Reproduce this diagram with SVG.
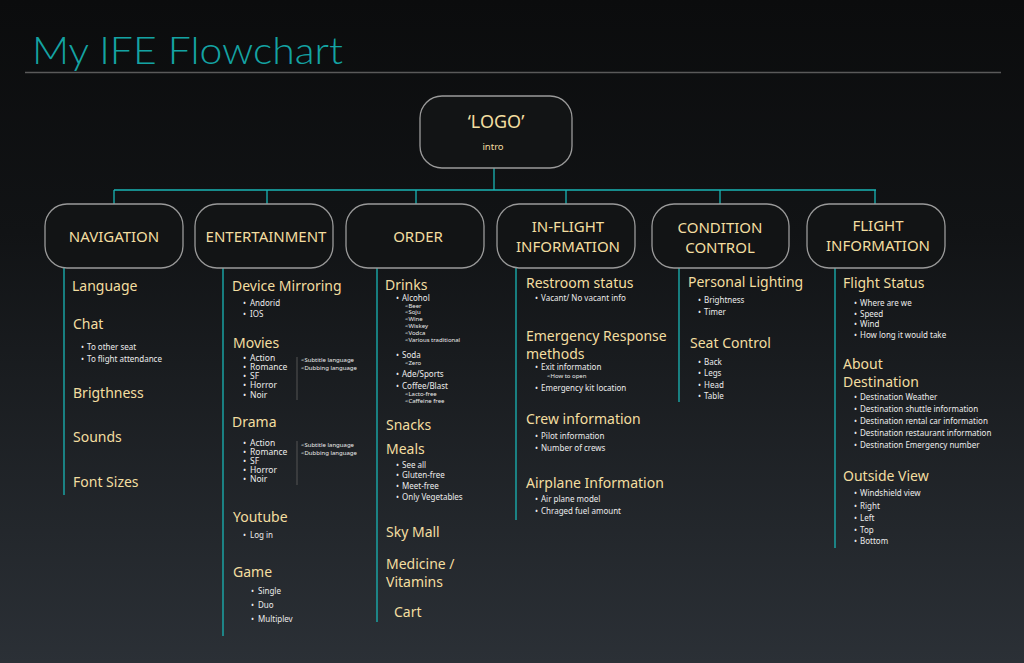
<svg xmlns="http://www.w3.org/2000/svg" width="1024" height="663" viewBox="0 0 1024 663">
<defs>
<linearGradient id="bg" x1="0" y1="0" x2="0" y2="1">
<stop offset="0" stop-color="#0b0c0d"/>
<stop offset="0.35" stop-color="#111315"/>
<stop offset="1" stop-color="#2b3036"/>
</linearGradient>
<style>
.box{fill:#121415;stroke:#9a9a9a;stroke-width:1.3}
.lbl{font-family:"Noto Sans","Open Sans",sans-serif;font-size:15px;fill:#f3dea0;text-anchor:middle}
.h{font-family:"Noto Sans","Open Sans",sans-serif;font-size:14px;fill:#f3dea0}
.b{font-family:"Noto Sans","Open Sans",sans-serif;font-size:8px;fill:#ececec}
.b2{font-family:"Noto Sans","Open Sans",sans-serif;font-size:8.5px;fill:#ececec}
.s{font-family:"Noto Sans","Open Sans",sans-serif;font-size:6px;fill:#ececec}
.c{stroke:#19b4b4;stroke-width:1.3;fill:none}
.g{stroke:#555;stroke-width:1;fill:none}
</style>
</defs>
<rect width="1024" height="663" fill="url(#bg)"/>
<text x="32" y="64" font-family="Lato,'Noto Sans',sans-serif" font-weight="300" font-size="38" fill="#14a3a3" textLength="311" lengthAdjust="spacingAndGlyphs">My IFE Flowchart</text>
<line x1="25" y1="72.5" x2="1001" y2="72.5" stroke="#5a5a5a" stroke-width="1.5"/>

<g id="connectors">
<path class="c" d="M494 168V190M114 190H876M114 190V204M267 190V204M416 190V204M566 190V204M720 190V204M875 190V204"/>
<path class="c" d="M64 268V495M223 268V636M377 268V622M516 268V520M679 268V402M835 268V548"/>
<path class="g" d="M297 357V400M297 441V485"/>
</g>

<g id="logo">
<rect class="box" x="420" y="96" width="152" height="72" rx="22"/>
<text class="lbl" x="496" y="128" style="font-size:18px">‘LOGO’</text>
<text class="lbl" x="493" y="150" style="font-size:9.5px">intro</text>
</g>

<g id="navigation">
<rect class="box" x="45" y="204" width="138" height="64" rx="22"/>
<text class="lbl" x="114" y="242">NAVIGATION</text>
</g>
<g id="entertainment">
<rect class="box" x="195" y="204" width="138" height="64" rx="22"/>
<text class="lbl" x="266" y="242">ENTERTAINMENT</text>
</g>
<g id="order">
<rect class="box" x="346" y="204" width="138" height="64" rx="22"/>
<text class="lbl" x="418" y="242">ORDER</text>
</g>
<g id="inflight">
<rect class="box" x="497" y="204" width="138" height="64" rx="22"/>
<text class="lbl" x="568" y="232">IN-FLIGHT</text>
<text class="lbl" x="568" y="252">INFORMATION</text>
</g>
<g id="condition">
<rect class="box" x="652" y="204" width="137" height="64" rx="22"/>
<text class="lbl" x="720" y="233">CONDITION</text>
<text class="lbl" x="720" y="253">CONTROL</text>
</g>
<g id="flightinfo">
<rect class="box" x="807" y="204" width="138" height="64" rx="22"/>
<text class="lbl" x="878" y="231">FLIGHT</text>
<text class="lbl" x="878" y="251">INFORMATION</text>
</g>

<g id="nav-items">
<text class="h" x="72" y="291">Language</text>
<text class="h" x="73" y="329">Chat</text>
<text class="b" x="81" y="350">•<tspan x="87">To other seat</tspan></text>
<text class="b" x="81" y="362">•<tspan x="87">To flight attendance</tspan></text>
<text class="h" x="73" y="398">Brigthness</text>
<text class="h" x="73" y="442">Sounds</text>
<text class="h" x="73" y="487">Font Sizes</text>
</g>

<g id="ent-items">
<text class="h" x="232" y="291">Device Mirroring</text>
<text class="b" x="243" y="306">•<tspan x="250">Andorid</tspan></text>
<text class="b" x="243" y="317">•<tspan x="250">IOS</tspan></text>
<text class="h" x="233" y="348">Movies</text>
<text class="b2" x="243" y="361">•<tspan x="250">Action</tspan></text>
<text class="b2" x="243" y="370">•<tspan x="250">Romance</tspan></text>
<text class="b2" x="243" y="379">•<tspan x="250">SF</tspan></text>
<text class="b2" x="243" y="388">•<tspan x="250">Horror</tspan></text>
<text class="b2" x="243" y="398">•<tspan x="250">Noir</tspan></text>
<text class="s" x="301" y="362">&lt;Subtitle language</text>
<text class="s" x="301" y="370">&lt;Dubbing language</text>
<text class="h" x="232" y="427">Drama</text>
<text class="b2" x="243" y="446">•<tspan x="250">Action</tspan></text>
<text class="b2" x="243" y="455">•<tspan x="250">Romance</tspan></text>
<text class="b2" x="243" y="464">•<tspan x="250">SF</tspan></text>
<text class="b2" x="243" y="473">•<tspan x="250">Horror</tspan></text>
<text class="b2" x="243" y="482">•<tspan x="250">Noir</tspan></text>
<text class="s" x="301" y="447">&lt;Subtitle language</text>
<text class="s" x="301" y="455">&lt;Dubbing language</text>
<text class="h" x="233" y="522">Youtube</text>
<text class="b" x="243" y="538">•<tspan x="250">Log in</tspan></text>
<text class="h" x="233" y="577">Game</text>
<text class="b" x="251" y="594">•<tspan x="258">Single</tspan></text>
<text class="b" x="251" y="608">•<tspan x="258">Duo</tspan></text>
<text class="b" x="251" y="622">•<tspan x="258">Multiplev</tspan></text>
</g>

<g id="order-items">
<text class="h" x="385" y="290">Drinks</text>
<text class="b" x="396" y="301">•<tspan x="402">Alcohol</tspan></text>
<text class="s" x="405" y="308">&lt;Beer</text>
<text class="s" x="405" y="314">&lt;Soju</text>
<text class="s" x="405" y="321">&lt;Wine</text>
<text class="s" x="405" y="328">&lt;Wiskey</text>
<text class="s" x="405" y="335">&lt;Vodca</text>
<text class="s" x="405" y="342">&lt;Various traditional</text>
<text class="b" x="396" y="358">•<tspan x="402">Soda</tspan></text>
<text class="s" x="405" y="365">&lt;Zero</text>
<text class="b" x="396" y="377">•<tspan x="402">Ade/Sports</tspan></text>
<text class="b" x="396" y="389">•<tspan x="402">Coffee/Blast</tspan></text>
<text class="s" x="405" y="396">&lt;Lacto-free</text>
<text class="s" x="405" y="403">&lt;Caffeine free</text>
<text class="h" x="386" y="430">Snacks</text>
<text class="h" x="386" y="454">Meals</text>
<text class="b" x="396" y="468">•<tspan x="402">See all</tspan></text>
<text class="b" x="396" y="478">•<tspan x="402">Gluten-free</tspan></text>
<text class="b" x="396" y="489">•<tspan x="402">Meet-free</tspan></text>
<text class="b" x="396" y="500">•<tspan x="402">Only Vegetables</tspan></text>
<text class="h" x="386" y="537">Sky Mall</text>
<text class="h" x="386" y="569">Medicine /</text>
<text class="h" x="386" y="587">Vitamins</text>
<text class="h" x="394" y="617">Cart</text>
</g>

<g id="inflight-items">
<text class="h" x="526" y="288">Restroom status</text>
<text class="b" x="535" y="301">•<tspan x="541">Vacant/ No vacant info</tspan></text>
<text class="h" x="526" y="341">Emergency Response</text>
<text class="h" x="526" y="359">methods</text>
<text class="b" x="535" y="370">•<tspan x="541">Exit information</tspan></text>
<text class="s" x="547" y="378">&lt;How to open</text>
<text class="b" x="535" y="391">•<tspan x="541">Emergency kit location</tspan></text>
<text class="h" x="526" y="424">Crew information</text>
<text class="b" x="535" y="439">•<tspan x="541">Pilot information</tspan></text>
<text class="b" x="535" y="451">•<tspan x="541">Number of crews</tspan></text>
<text class="h" x="526" y="488">Airplane Information</text>
<text class="b" x="535" y="502">•<tspan x="541">Air plane model</tspan></text>
<text class="b" x="535" y="514">•<tspan x="541">Chraged fuel amount</tspan></text>
</g>

<g id="condition-items">
<text class="h" x="688" y="287">Personal Lighting</text>
<text class="b" x="698" y="303">•<tspan x="704">Brightness</tspan></text>
<text class="b" x="698" y="315">•<tspan x="704">Timer</tspan></text>
<text class="h" x="690" y="348">Seat Control</text>
<text class="b" x="698" y="365">•<tspan x="704">Back</tspan></text>
<text class="b" x="698" y="376">•<tspan x="704">Legs</tspan></text>
<text class="b" x="698" y="388">•<tspan x="704">Head</tspan></text>
<text class="b" x="698" y="399">•<tspan x="704">Table</tspan></text>
</g>

<g id="flight-items">
<text class="h" x="843" y="288">Flight Status</text>
<text class="b" x="854" y="306">•<tspan x="860">Where are we</tspan></text>
<text class="b" x="854" y="317">•<tspan x="860">Speed</tspan></text>
<text class="b" x="854" y="327">•<tspan x="860">Wind</tspan></text>
<text class="b" x="854" y="338">•<tspan x="860">How long it would take</tspan></text>
<text class="h" x="843" y="369">About</text>
<text class="h" x="843" y="387">Destination</text>
<text class="b" x="854" y="400">•<tspan x="860">Destination Weather</tspan></text>
<text class="b" x="854" y="412">•<tspan x="860">Destination shuttle information</tspan></text>
<text class="b" x="854" y="424">•<tspan x="860">Destination rental car information</tspan></text>
<text class="b" x="854" y="436">•<tspan x="860">Destination restaurant information</tspan></text>
<text class="b" x="854" y="448">•<tspan x="860">Destination Emergency number</tspan></text>
<text class="h" x="843" y="481">Outside View</text>
<text class="b" x="854" y="496">•<tspan x="860">Windshield view</tspan></text>
<text class="b" x="854" y="509">•<tspan x="860">Right</tspan></text>
<text class="b" x="854" y="521">•<tspan x="860">Left</tspan></text>
<text class="b" x="854" y="533">•<tspan x="860">Top</tspan></text>
<text class="b" x="854" y="544">•<tspan x="860">Bottom</tspan></text>
</g>
</svg>
